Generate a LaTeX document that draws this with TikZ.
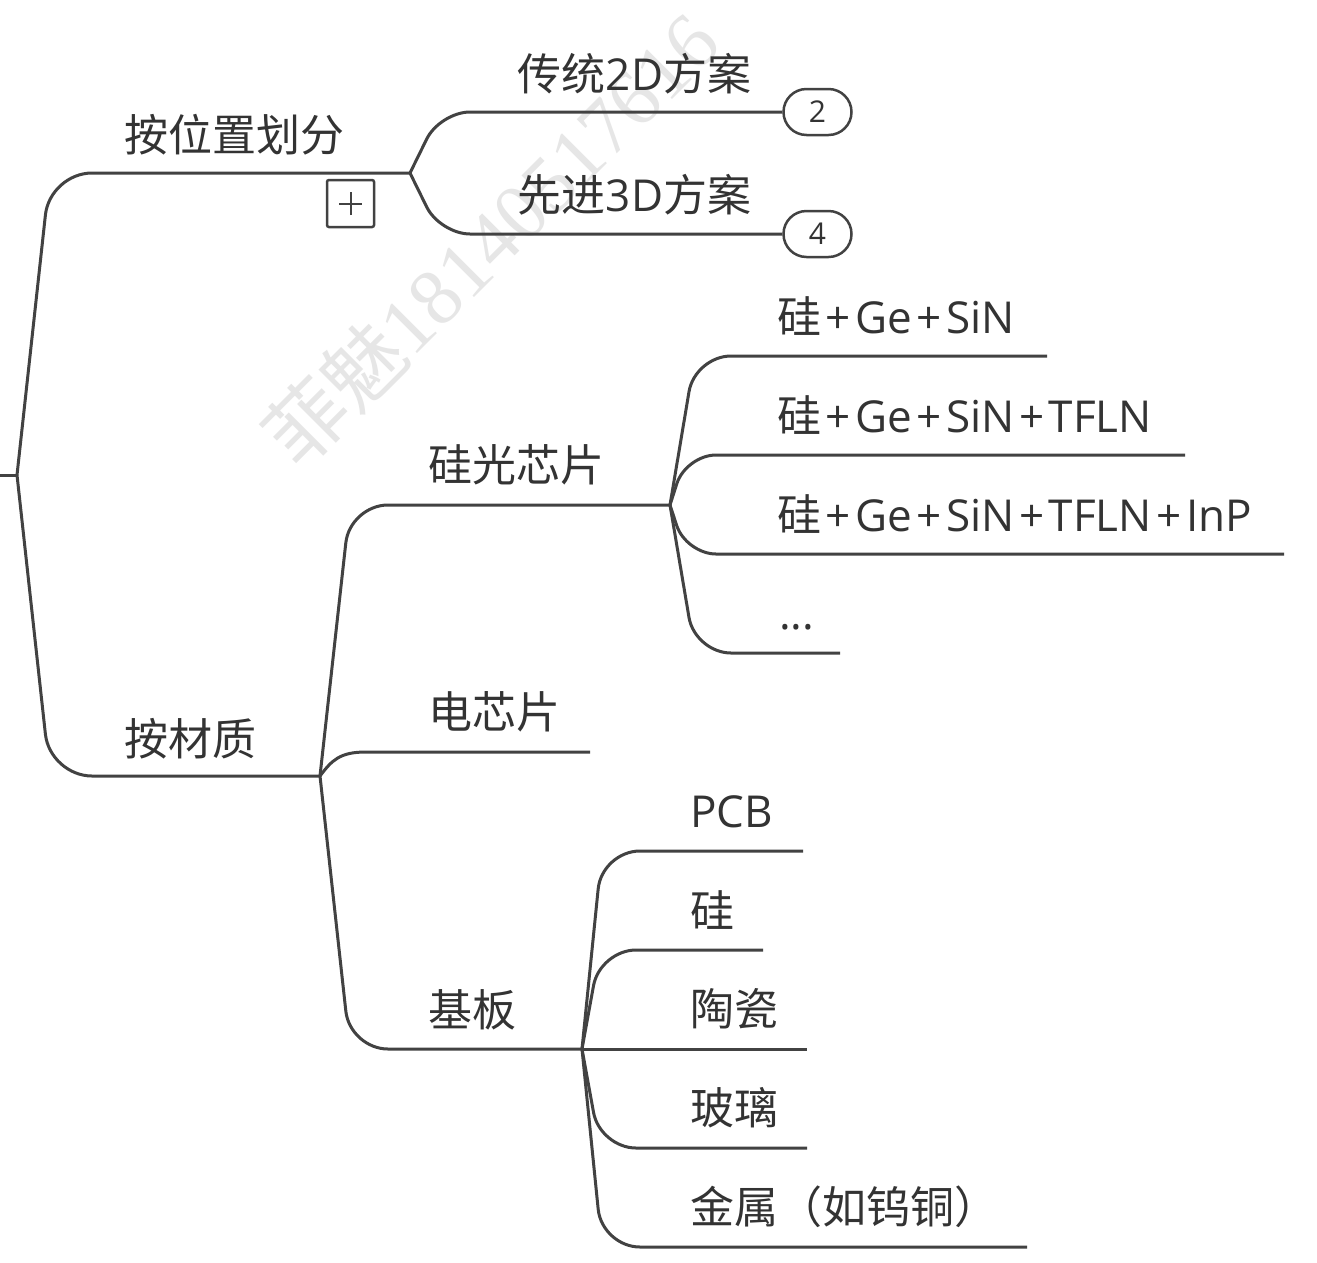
\documentclass[tikz,border=0pt]{standalone}
\usepackage{fontspec}
\setmainfont{Open Sans}
\newfontfamily\cjk{Noto Sans CJK SC}
\newfontfamily\wmlat{Liberation Serif}
\definecolor{ln}{HTML}{424242}
\definecolor{tx}{HTML}{333333}
\definecolor{wm}{HTML}{E6E6E6}
\newcommand{\pl}{\hspace{4.5pt}+\hspace{4.5pt}}
\begin{document}
\begin{tikzpicture}[x=1pt,y=-1pt,
  conn/.style={draw=ln, line width=3pt},
  lbl/.style={anchor=west, inner sep=0pt, text=tx, font=\fontsize{44}{50}\selectfont},
  badge/.style={draw=ln, line width=2.5pt, rounded corners=23pt, minimum width=68pt, minimum height=46pt, inner sep=0pt, text=tx, font=\fontsize{30}{34}\selectfont},
  plusbox/.style={draw=ln, line width=2.5pt, rounded corners=2pt, minimum size=47pt, inner sep=0pt},
  wmark/.style={text=wm, rotate=45, inner sep=0pt, font=\fontsize{80}{88}\selectfont}
]
\useasboundingbox (0,0) rectangle (1317,1262);
\fill[white] (0,0) rectangle (1317,1262);

% watermark
\node[wmark] (wm) at (490,238) {{\cjk 菲魅}{\wmlat 18140517616}};

% junctions
\coordinate (root) at (0,475);
\coordinate (J0) at (17,475);
\coordinate (J1) at (410,173);
\coordinate (J2) at (320,776);
\coordinate (J3) at (670,505);
\coordinate (J4) at (582,1049);

% line ends
\coordinate (e8) at (1047,356);
\coordinate (e9) at (1185,455);
\coordinate (e10) at (1284,554);
\coordinate (e11) at (840,653);
\coordinate (e6) at (590,752);
\coordinate (e12) at (803,851);
\coordinate (e13) at (763,950);
\coordinate (e14) at (807,1049);
\coordinate (e15) at (807,1148);
\coordinate (e16) at (1027,1247);

% labels
\node[lbl] (n1) at (124,135) {\cjk 按位置划分};
\node[lbl] (n2) at (124,739) {\cjk 按材质};
\node[lbl] (n3) at (517,73.5) {{\cjk 传统}2\hspace{1pt}D{\cjk 方案}};
\node[lbl] (n4) at (517,194.5) {{\cjk 先进}3\hspace{1pt}D{\cjk 方案}};
\node[lbl] (n5) at (428,465) {\cjk 硅光芯片};
\node[lbl] (n6) at (428,712) {\cjk 电芯片};
\node[lbl] (n7) at (428,1009.5) {\cjk 基板};
\node[lbl] (n8) at (777,316) {{\cjk 硅}\pl Ge\pl SiN};
\node[lbl] (n9) at (777,415) {{\cjk 硅}\pl Ge\pl SiN\pl TFLN};
\node[lbl] (n10) at (777,514) {{\cjk 硅}\pl Ge\pl SiN\pl TFLN\pl InP};
\node[lbl] (n11) at (779,627) {...};
\node[lbl] (n12) at (690,811.5) {PCB};
\node[lbl] (n13) at (690,910) {\cjk 硅};
\node[lbl] (n14) at (690,1009) {\cjk 陶瓷};
\node[lbl] (n15) at (690,1108) {\cjk 玻璃};
\node[lbl] (n16) at (690,1207) {\cjk 金属（如钨铜）};

% badges and plus box
\node[badge] (b2) at (817.5,112) {2};
\node[badge] (b4) at (817.5,234) {4};
\node[plusbox] (pb) at (350.5,203.5) {};
\draw[ln, line width=2pt] ([xshift=-11.5pt]pb.center) -- ([xshift=11.5pt]pb.center);
\draw[ln, line width=2pt] ([yshift=-11.5pt]pb.center) -- ([yshift=11.5pt]pb.center);

% connectors
\draw[conn] (root) -- (J0);
\draw[conn, rounded corners=42pt] (J0) -- (50,173) -- (J1);
\draw[conn, rounded corners=42pt] (J0) -- (50,776) -- (J2);

\draw[conn, rounded corners=30pt] (J1) -- (440,112) -- (b2.west);
\draw[conn, rounded corners=30pt] (J1) -- (440,234) -- (b4.west);

\draw[conn, rounded corners=38pt] (J2) -- (350,505) -- (J3);
\draw[conn] (J2) .. controls (332,760) and (340,752) .. (366,752) -- (e6);
\draw[conn, rounded corners=38pt] (J2) -- (350,1049) -- (J4);

\draw[conn, rounded corners=36pt] (J3) -- (695,356) -- (e8);
\draw[conn, rounded corners=30pt] (J3) -- (686,455) -- (e9);
\draw[conn, rounded corners=30pt] (J3) -- (686,554) -- (e10);
\draw[conn, rounded corners=36pt] (J3) -- (695,653) -- (e11);

\draw[conn, rounded corners=38pt] (J4) -- (602,851) -- (e12);
\draw[conn, rounded corners=36pt] (J4) -- (600,950) -- (e13);
\draw[conn] (J4) -- (e14);
\draw[conn, rounded corners=36pt] (J4) -- (600,1148) -- (e15);
\draw[conn, rounded corners=38pt] (J4) -- (602,1247) -- (e16);
\end{tikzpicture}
\end{document}
